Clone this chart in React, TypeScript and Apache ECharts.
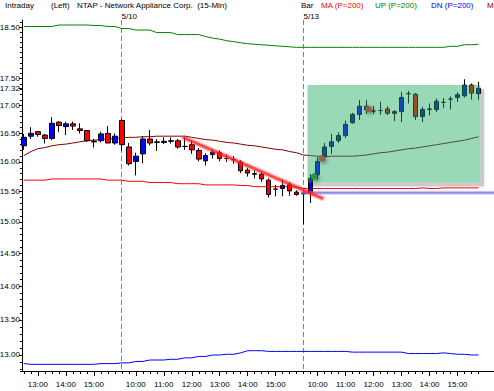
import { useEffect, useRef } from 'react';
import * as echarts from 'echarts';

const FONT = '"Liberation Sans", Arial, sans-serif';

const sessionTimes = [
  '9:30', '9:45', '10:00', '10:15', '10:30', '10:45', '11:00', '11:15', '11:30', '11:45',
  '12:00', '12:15', '12:30', '12:45', '13:00', '13:15', '13:30', '13:45', '14:00', '14:15',
  '14:30', '14:45', '15:00', '15:15', '15:30', '15:45',
];

const categories = [
  ...sessionTimes.slice(12).map((t) => `5/9 ${t}`),
  ...sessionTimes.map((t) => `5/10 ${t}`),
  ...sessionTimes.map((t) => `5/13 ${t}`),
  '',
  '',
];

const openPrices = [
  16.28, 16.45, 16.53, 16.47, 16.41, 16.70, 16.62, 16.67, 16.58, 16.55, 16.36, 16.37, 16.50, 16.33,
  16.73, 16.26, 16.01, 16.14, 16.40, 16.35, 16.34, 16.36, 16.37, 16.27, 16.30, 16.20, 16.02, 16.13,
  16.16, 16.06, 16.04, 16.00, 15.86, 15.80, 15.79, 15.69, 15.54, 15.55, 15.61, 15.49,
  15.46, 15.48, 15.78, 16.09, 16.27, 16.37, 16.46, 16.69, 16.84, 16.99, 16.90, 16.91, 16.94, 16.86,
  16.89, 17.22, 17.21, 16.80, 16.93, 16.93, 17.06, 17.12, 17.15, 17.18, 17.38, 17.22,
];
const closePrices = [
  16.43, 16.50, 16.48, 16.41, 16.68, 16.64, 16.67, 16.63, 16.55, 16.37, 16.35, 16.49, 16.33, 16.45,
  16.30, 15.97, 16.10, 16.40, 16.33, 16.34, 16.36, 16.37, 16.26, 16.27, 16.21, 16.05, 16.11, 16.17,
  16.06, 16.06, 16.04, 15.85, 15.81, 15.79, 15.71, 15.45, 15.54, 15.60, 15.51, 15.45,
  15.47, 15.72, 16.01, 16.26, 16.35, 16.46, 16.66, 16.84, 16.99, 16.92, 16.90, 16.91, 16.86, 16.89,
  17.15, 17.22, 16.80, 16.93, 16.94, 17.08, 17.06, 17.12, 17.20, 17.38, 17.23, 17.32,
];
const highPrices = [
  16.49, 16.61, 16.54, 16.49, 16.79, 16.72, 16.71, 16.71, 16.68, 16.55, 16.40, 16.53, 16.63, 16.50,
  16.75, 16.33, 16.16, 16.45, 16.56, 16.40, 16.43, 16.43, 16.40, 16.43, 16.37, 16.24, 16.15, 16.22,
  16.20, 16.13, 16.10, 16.03, 15.90, 15.86, 15.83, 15.72, 15.61, 15.70, 15.66, 15.52,
  15.49, 15.79, 16.08, 16.33, 16.49, 16.52, 16.73, 16.87, 17.10, 17.10, 16.99, 17.07, 16.99, 16.92,
  17.25, 17.27, 17.23, 16.98, 17.04, 17.13, 17.14, 17.17, 17.25, 17.49, 17.41, 17.44,
];
const lowPrices = [
  16.21, 16.40, 16.44, 16.32, 16.38, 16.52, 16.47, 16.56, 16.50, 16.35, 16.25, 16.34, 16.33, 16.30,
  16.19, 15.94, 15.77, 15.98, 16.29, 16.19, 16.31, 16.32, 16.23, 16.21, 16.14, 16.01, 15.94, 16.06,
  16.01, 16.00, 15.97, 15.81, 15.75, 15.72, 15.66, 15.40, 15.42, 15.42, 15.43, 15.43,
  14.96, 15.31, 15.70, 16.03, 16.14, 16.33, 16.42, 16.67, 16.74, 16.85, 16.85, 16.83, 16.83, 16.72,
  16.70, 17.04, 16.74, 16.70, 16.82, 16.88, 16.96, 16.93, 17.07, 17.15, 17.11, 17.11,
];

// indicator lines
const maLine = [
  15.69, 15.69, 15.69, 15.69, 15.71, 15.71, 15.71, 15.71, 15.71, 15.71, 15.71, 15.71, 15.69, 15.69,
  15.69, 15.67, 15.67, 15.67, 15.65, 15.65, 15.65, 15.65, 15.63, 15.63, 15.63, 15.63, 15.61, 15.61,
  15.61, 15.61, 15.61, 15.60, 15.60, 15.58, 15.58, 15.58, 15.58, 15.58, 15.58, 15.57,
  15.55, 15.55, 15.55, 15.55, 15.55, 15.55, 15.55, 15.55, 15.55, 15.55, 15.55, 15.55, 15.55, 15.55,
  15.55, 15.55, 15.55, 15.56, 15.55, 15.55, 15.56, 15.56, 15.56, 15.56, 15.56, 15.56,
];
const upLine = [
  18.51, 18.51, 18.51, 18.51, 18.51, 18.54, 18.54, 18.54, 18.54, 18.54, 18.53, 18.53, 18.51, 18.51,
  18.47, 18.47, 18.44, 18.44, 18.44, 18.39, 18.39, 18.39, 18.35, 18.35, 18.35, 18.35, 18.31, 18.28,
  18.26, 18.23, 18.21, 18.19, 18.17, 18.16, 18.15, 18.14, 18.13, 18.12, 18.11, 18.10,
  18.10, 18.10, 18.10, 18.10, 18.10, 18.10, 18.10, 18.10, 18.10, 18.10, 18.10, 18.10, 18.10, 18.10,
  18.10, 18.10, 18.10, 18.10, 18.10, 18.10, 18.10, 18.12, 18.12, 18.15, 18.15, 18.16,
];
const dnLine = [
  12.88, 12.87, 12.87, 12.87, 12.87, 12.87, 12.87, 12.87, 12.87, 12.87, 12.87, 12.88, 12.88, 12.88,
  12.89, 12.89, 12.91, 12.91, 12.93, 12.93, 12.93, 12.94, 12.94, 12.96, 12.96, 12.98, 12.98, 13.00,
  13.00, 13.01, 13.01, 13.03, 13.06, 13.06, 13.06, 13.05, 13.05, 13.05, 13.05, 13.05,
  13.05, 13.05, 13.05, 13.05, 13.05, 13.05, 13.05, 13.04, 13.04, 13.04, 13.04, 13.04, 13.04, 13.04,
  13.04, 13.02, 13.02, 13.02, 13.02, 13.02, 13.03, 13.02, 13.01, 13.01, 13.00, 13.00,
];
const mLine = [
  16.11, 16.18, 16.23, 16.25, 16.28, 16.30, 16.31, 16.33, 16.35, 16.37, 16.38, 16.39, 16.40, 16.41,
  16.42, 16.43, 16.43, 16.44, 16.44, 16.45, 16.45, 16.45, 16.45, 16.45, 16.43, 16.41, 16.39, 16.38,
  16.36, 16.34, 16.33, 16.31, 16.29, 16.28, 16.26, 16.24, 16.22, 16.21, 16.18, 16.16,
  16.12, 16.11, 16.10, 16.09, 16.10, 16.10, 16.10, 16.10, 16.11, 16.12, 16.14, 16.16, 16.17, 16.19,
  16.21, 16.23, 16.24, 16.26, 16.28, 16.30, 16.32, 16.34, 16.36, 16.38, 16.41, 16.44,
];

// axis
const yTickLabels = [13.0, 13.5, 14.0, 14.5, 15.0, 15.5, 16.0, 16.5, 17.0, 17.5, 18.5];
const lastPrice = 17.32;
const yRange = [12.778, 18.64];
const minorStep = 0.1;

// annotations (bar index, price)
const daySeparators = [
  { index: 14, label: '5/10' },
  { index: 40, label: '5/13' },
];
const trendLine = { start: [22.9, 16.42], end: [42.6, 15.39] };
const supportLine = { start: 39.6, price: 15.48 };
const signalBox = { start: 40.54, end: 65.25, top: 17.38, bottom: 15.65 };
const signalMarks = [
  { index: 41.5, price: 15.75, color: 'rgb(40,150,75)' },
  { index: 42.6, price: 16.06, color: 'rgb(150,95,75)' },
  { index: 49.3, price: 16.94, color: 'rgb(150,95,75)' },
];

const headerTexts = [
  { text: 'Intraday', x: 5, color: '#000000' },
  { text: '(Left)', x: 51, color: '#000000' },
  { text: 'NTAP - Network Appliance Corp.  (15-Min)', x: 77, color: '#000000' },
  { text: 'Bar', x: 301, color: '#000000' },
  { text: 'MA (P=200)', x: 321, color: '#FF0000' },
  { text: 'UP (P=200)', x: 375, color: '#008000' },
  { text: 'DN (P=200)', x: 431, color: '#0000FF' },
  { text: 'M', x: 487, color: '#800000' },
];

function pt(api: any, idx: number, price: number) {
  const i0 = Math.floor(idx);
  const c = api.coord([i0, Math.log(price)]);
  const bw = api.size([1, 0])[0];
  return [c[0] + (idx - i0) * bw, c[1]];
}

export default function App() {
  const ref = useRef<HTMLDivElement>(null);

  useEffect(() => {
    if (!ref.current) return;
    const chart = echarts.init(ref.current, undefined, { renderer: 'svg' });

    const ln = (v: number) => Math.log(v);
    const yMin = ln(yRange[0]);
    const yMax = ln(yRange[1]);
    const majorVals = [...yTickLabels, lastPrice].map(ln);
    const minorVals: number[] = [];
    for (let v = 12.8; v <= 18.6 + 1e-9; v += minorStep) minorVals.push(ln(Math.round(v * 10) / 10));

    const candleData = openPrices.map((o, i) => [ln(o), ln(closePrices[i]), ln(lowPrices[i]), ln(highPrices[i])]);

    const lineSeries = (name: string, data: number[], color: string) => ({
      name,
      type: 'line',
      data: data.map(ln),
      showSymbol: false,
      symbol: 'none',
      lineStyle: { color, width: 1 },
      z: 2,
      silent: true,
    });

    const option: any = {
      animation: false,
      backgroundColor: '#ffffff',
      textStyle: { fontFamily: FONT },
      grid: { left: 20.4, right: -2, top: 20, bottom: 20, containLabel: false, outerBoundsMode: 'none' },
      graphic: headerTexts.map((h) => ({
        type: 'text',
        x: h.x,
        y: 1,
        style: { text: h.text, fill: h.color, font: `8px ${FONT}`, verticalAlign: 'top' },
      })),
      xAxis: [
        {
          type: 'category',
          data: categories,
          boundaryGap: true,
          position: 'bottom',
          axisLine: { show: true, lineStyle: { color: '#000', width: 1 } },
          axisTick: {
            show: true,
            alignWithLabel: true,
            interval: (_i: number, v: string) => v !== '',
            length: 3,
            lineStyle: { color: '#000' },
          },
          axisLabel: {
            interval: (_i: number, v: string) => v.endsWith(':00'),
            formatter: (v: string) => v.split(' ')[1] || '',
            fontSize: 8,
            fontFamily: FONT,
            color: '#000',
            margin: 9,
          },
          splitLine: { show: false },
        },
        {
          type: 'category',
          data: categories,
          boundaryGap: true,
          position: 'bottom',
          axisLine: { show: false },
          axisTick: {
            show: true,
            alignWithLabel: true,
            interval: (_i: number, v: string) => v.endsWith(':00'),
            length: 5,
            lineStyle: { color: '#000' },
          },
          axisLabel: { show: false },
          splitLine: { show: false },
        },
      ],
      yAxis: [
        {
          type: 'value',
          min: yMin,
          max: yMax,
          position: 'left',
          offset: -1.5,
          axisLine: { show: true, lineStyle: { color: '#000', width: 1 } },
          axisTick: { show: true, customValues: majorVals, length: 3, lineStyle: { color: '#000' } },
          axisLabel: {
            customValues: majorVals,
            formatter: (v: number) => Math.exp(v).toFixed(2),
            fontSize: 8,
            fontFamily: FONT,
            color: '#000',
            margin: 2,
          },
          splitLine: { show: false },
        },
        {
          type: 'value',
          min: yMin,
          max: yMax,
          position: 'left',
          offset: -1.5,
          axisLine: { show: false },
          axisTick: { show: true, customValues: minorVals, length: 2, lineStyle: { color: '#000' } },
          axisLabel: { show: false },
          splitLine: { show: false },
        },
      ],
      series: [
        {
          type: 'custom',
          name: 'separators',
          data: daySeparators.map((d) => [d.index, 0]),
          z: 1,
          clip: false,
          silent: true,
          renderItem: (params: any, api: any) => {
            const d = daySeparators[params.dataIndex];
            const cs = params.coordSys;
            const x = Math.floor(api.coord([d.index, yMin])[0]) + 0.5;
            return {
              type: 'group',
              children: [
                {
                  type: 'line',
                  shape: { x1: x, y1: cs.y, x2: x, y2: cs.y + cs.height },
                  style: { stroke: '#808080', lineWidth: 1, lineDash: [5, 3] },
                },
                {
                  type: 'text',
                  style: {
                    text: d.label,
                    x: x,
                    y: cs.y,
                    fill: '#000',
                    font: `8px ${FONT}`,
                    align: 'left',
                    verticalAlign: 'bottom',
                  },
                },
              ],
            };
          },
        },
        lineSeries('UP', upLine, '#008000'),
        lineSeries('MA', maLine, '#FF0000'),
        lineSeries('DN', dnLine, '#0000FF'),
        lineSeries('M', mLine, '#800000'),
        {
          type: 'candlestick',
          name: 'NTAP',
          data: candleData,
          barWidth: 5,
          z: 3,
          silent: true,
          itemStyle: {
            color: '#0000FF',
            color0: '#FF0000',
            borderColor: '#000000',
            borderColor0: '#000000',
            borderColorDoji: '#000000',
            borderWidth: 1,
          },
        },
        {
          type: 'custom',
          name: 'annotations',
          data: [[0, 0]],
          z: 5,
          clip: false,
          silent: true,
          renderItem: (params: any, api: any) => {
            const cs = params.coordSys;
            const b0 = pt(api, signalBox.start, signalBox.top);
            const b1 = pt(api, signalBox.end, signalBox.bottom);
            const t0 = pt(api, trendLine.start[0], trendLine.start[1]);
            const t1 = pt(api, trendLine.end[0], trendLine.end[1]);
            const s0 = pt(api, supportLine.start, supportLine.price);
            const sx1 = cs.x + cs.width;
            const sh = 4;
            const children: any[] = [
              {
                type: 'polygon',
                shape: {
                  points: [
                    [b1[0], b0[1] + sh],
                    [b1[0] + sh, b0[1] + sh],
                    [b1[0] + sh, b1[1] + sh],
                    [b0[0] + sh, b1[1] + sh],
                    [b0[0] + sh, b1[1]],
                    [b1[0], b1[1]],
                  ],
                },
                style: { fill: 'rgba(0,0,0,0.18)', shadowBlur: 4, shadowColor: 'rgba(0,0,0,0.25)' },
              },
              {
                type: 'rect',
                shape: { x: b0[0], y: b0[1], width: b1[0] - b0[0], height: b1[1] - b0[1] },
                style: { fill: 'rgba(30,170,95,0.45)' },
              },
              {
                type: 'line',
                shape: { x1: s0[0], y1: s0[1], x2: sx1, y2: s0[1] },
                style: { stroke: 'rgba(120,120,235,0.3)', lineWidth: 4 },
              },
              {
                type: 'line',
                shape: { x1: s0[0], y1: s0[1], x2: sx1, y2: s0[1] },
                style: { stroke: 'rgba(110,110,235,0.7)', lineWidth: 2 },
              },
              {
                type: 'line',
                shape: { x1: t0[0], y1: t0[1], x2: t1[0], y2: t1[1] },
                style: { stroke: 'rgba(255,60,60,0.25)', lineWidth: 6, lineCap: 'round' },
              },
              {
                type: 'line',
                shape: { x1: t0[0], y1: t0[1], x2: t1[0], y2: t1[1] },
                style: { stroke: 'rgba(255,20,20,0.7)', lineWidth: 3, lineCap: 'round' },
              },
            ];
            signalMarks.forEach((m) => {
              const p = pt(api, m.index, m.price);
              children.push({
                type: 'circle',
                shape: { cx: p[0], cy: p[1], r: 3.2 },
                style: {
                  fill: m.color,
                  shadowBlur: 4,
                  shadowOffsetX: 1.5,
                  shadowOffsetY: 1.5,
                  shadowColor: 'rgba(0,0,0,0.55)',
                },
              });
            });
            return { type: 'group', children };
          },
        },
      ],
    };

    chart.setOption(option);
    return () => chart.dispose();
  }, []);

  return (
    <div
      ref={ref}
      style={{ position: 'fixed', left: 0, top: 0, width: 494, height: 391, background: '#fff' }}
    />
  );
}
